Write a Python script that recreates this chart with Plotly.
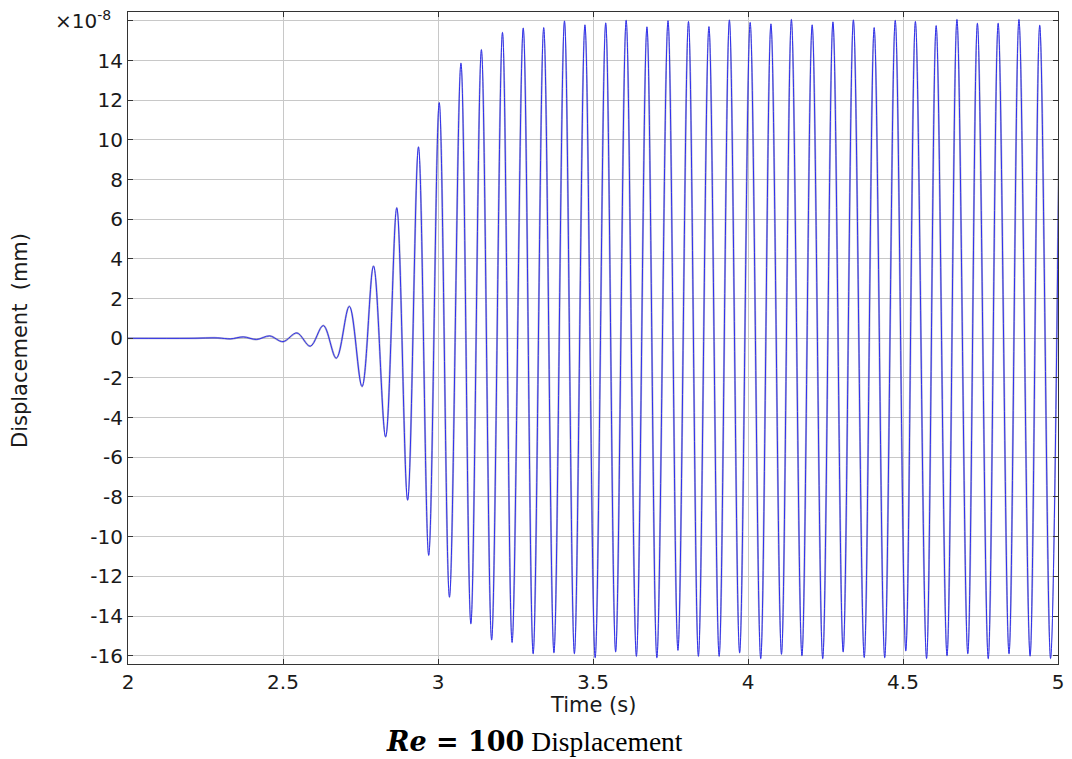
import plotly.graph_objects as go

# Extrema of the displacement signal (time in s, displacement in 1e-8 mm)
t_ext = [2.000, 2.200, 2.290, 2.330, 2.372, 2.415, 2.457, 2.500, 2.545, 2.588,
         2.630, 2.672, 2.714, 2.755, 2.792, 2.831, 2.867, 2.902, 2.937, 2.970,
         3.004, 3.037, 3.074, 3.106, 3.140, 3.173, 3.208, 3.239, 3.275, 3.307,
         3.341, 3.374, 3.408, 3.440, 3.474, 3.507, 3.541, 3.573, 3.607, 3.640,
         3.674, 3.706, 3.742, 3.774, 3.808, 3.840, 3.874, 3.907, 3.940, 3.973,
         4.007, 4.041, 4.074, 4.108, 4.140, 4.174, 4.207, 4.241, 4.274, 4.307,
         4.340, 4.375, 4.407, 4.441, 4.475, 4.509, 4.540, 4.576, 4.607, 4.642,
         4.674, 4.709, 4.740, 4.775, 4.807, 4.842, 4.874, 4.910, 4.941, 4.976,
         5.007]
d_ext = [0.00, 0.00, 0.02, -0.03, 0.07, -0.06, 0.12, -0.17, 0.27, -0.40,
         0.64, -1.00, 1.61, -2.43, 3.64, -4.97, 6.58, -8.16, 9.65, -10.94,
         11.88, -13.05, 13.87, -14.39, 14.55, -15.21, 15.42, -15.33, 15.64, -15.90,
         15.66, -15.85, 16.00, -15.90, 15.80, -16.10, 15.90, -15.81, 16.03, -16.03,
         15.70, -16.10, 16.01, -15.73, 15.97, -16.03, 15.71, -16.03, 16.05, -15.86,
         15.92, -16.15, 15.85, -15.93, 16.07, -16.00, 15.80, -16.15, 15.95, -15.81,
         16.05, -16.09, 15.66, -16.10, 16.02, -15.76, 15.97, -16.14, 15.76, -16.00,
         16.07, -15.90, 15.88, -16.15, 15.88, -15.90, 16.07, -16.02, 15.78, -16.14,
         16.00]

x_ticks = [2, 2.5, 3, 3.5, 4, 4.5, 5]
x_labels = ["2", "2.5", "3", "3.5", "4", "4.5", "5"]
y_ticks = [-16, -14, -12, -10, -8, -6, -4, -2, 0, 2, 4, 6, 8, 10, 12, 14, 16]
y_labels = ["-16", "-14", "-12", "-10", "-8", "-6", "-4", "-2", "0", "2", "4",
            "6", "8", "10", "12", "14", ""]

fig = go.Figure()
fig.add_trace(go.Scatter(x=t_ext, y=d_ext, mode="lines",
                         line=dict(color="rgba(110,110,150,0.5)", width=2.0,
                                   shape="spline", smoothing=1),
                         hoverinfo="skip", showlegend=False))
fig.add_trace(go.Scatter(x=t_ext, y=d_ext, mode="lines",
                         line=dict(color="#3030ee", width=1,
                                   shape="spline", smoothing=1),
                         showlegend=False))

tick_font = dict(family="DejaVu Sans", size=20, color="#1a1a1a")
axis_common = dict(showline=True, linecolor="#333333", linewidth=1, mirror="allticks",
                   ticks="inside", ticklen=5, tickcolor="#333333",
                   showgrid=True, gridcolor="#c8c8c8", gridwidth=1, zeroline=False,
                   tickfont=tick_font)

fig.update_xaxes(range=[2, 5], tickmode="array", tickvals=x_ticks, ticktext=x_labels,
                 **axis_common)
fig.update_yaxes(range=[-16.42, 16.45], tickmode="array", tickvals=y_ticks,
                 ticktext=y_labels, **axis_common)

title_font = dict(family="DejaVu Sans", size=21, color="#1a1a1a")

fig.update_layout(
    width=1064, height=751,
    margin=dict(l=120, r=14, t=4, b=95),
    paper_bgcolor="white", plot_bgcolor="white",
    font=dict(family="DejaVu Sans", size=20, color="#1a1a1a"),
    annotations=[
        dict(text="×10<sup>-8</sup>", xref="paper", yref="paper", x=0, y=1,
             xanchor="right", yanchor="middle", xshift=-15, yshift=-8,
             showarrow=False, font=tick_font),
        dict(text="Displacement&nbsp;&nbsp;(mm)", xref="paper", yref="paper", x=0, y=0.5,
             xanchor="center", yanchor="middle", xshift=-108, yshift=-3, textangle=-90,
             showarrow=False, font=title_font),
        dict(text="Time (s)", xref="paper", yref="paper", x=0.5, y=0,
             xanchor="center", yanchor="middle", yshift=-41,
             showarrow=False, font=title_font),
        dict(text="<span style='font-family:DejaVu Serif;font-size:27px'><b><i>Re</i> = 100</b></span> Displacement",
             xref="paper", yref="paper",
             x=0.437, y=0, xanchor="center", yanchor="middle", yshift=-77,
             showarrow=False, font=dict(family="Liberation Serif", size=27.5, color="#000000")),
    ],
)

fig.write_html("out.html")
